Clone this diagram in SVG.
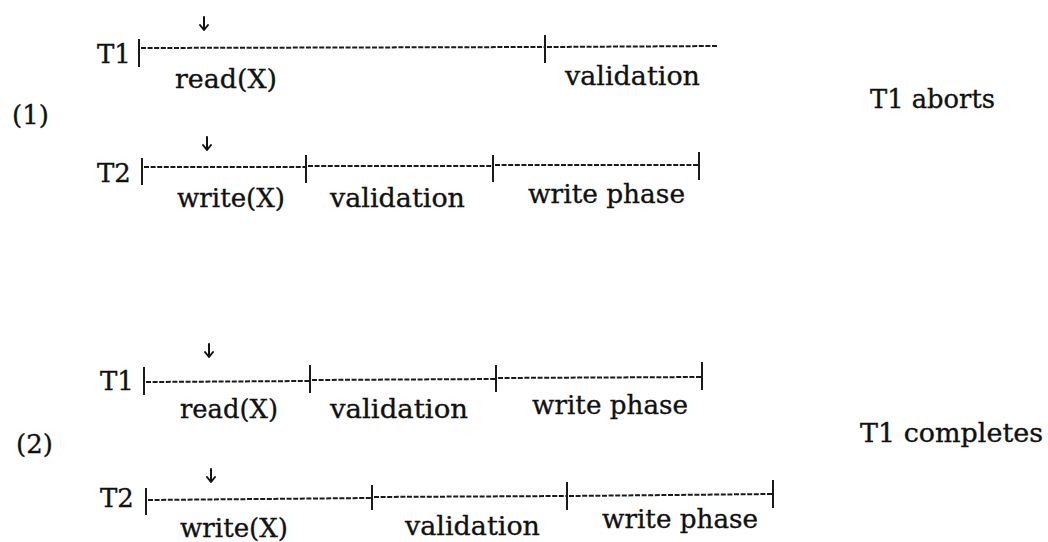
<svg xmlns="http://www.w3.org/2000/svg" width="1048" height="542" viewBox="0 0 1048 542">
<style>
text{font-family:"DejaVu Serif","Liberation Serif",serif;font-size:26px;fill:#111;stroke:#111;stroke-width:0.35}
.d{stroke:#1a1a1a;stroke-width:2;stroke-dasharray:5 1.6;fill:none}
.t{stroke:#1a1a1a;stroke-width:2;fill:none}
.a{stroke:#111;stroke-width:2;fill:none;stroke-linecap:round;stroke-linejoin:round}
</style>
<rect width="1048" height="542" fill="#fff"/>

<g id="case1-label"><text x="12" y="124">(1)</text></g>
<g id="case1-result"><text x="870" y="108" textLength="125" lengthAdjust="spacingAndGlyphs">T1 aborts</text></g>

<g id="case1-T1">
<text x="97" y="63">T1</text>
<text x="175" y="88" textLength="102" lengthAdjust="spacingAndGlyphs">read(X)</text>
<text x="565" y="85" textLength="135" lengthAdjust="spacingAndGlyphs">validation</text>
</g>
<g id="case1-T2">
<text x="97" y="182">T2</text>
<text x="177" y="207" textLength="108" lengthAdjust="spacingAndGlyphs">write(X)</text>
<text x="330" y="207" textLength="135" lengthAdjust="spacingAndGlyphs">validation</text>
<text x="528" y="203" textLength="157" lengthAdjust="spacingAndGlyphs">write phase</text>
</g>

<g id="case2-label"><text x="16" y="453">(2)</text></g>
<g id="case2-result"><text x="860" y="442" textLength="183" lengthAdjust="spacingAndGlyphs">T1 completes</text></g>

<g id="case2-T1">
<text x="100" y="390">T1</text>
<text x="180" y="418" textLength="98" lengthAdjust="spacingAndGlyphs">read(X)</text>
<text x="330" y="418" textLength="138" lengthAdjust="spacingAndGlyphs">validation</text>
<text x="532" y="414" textLength="156" lengthAdjust="spacingAndGlyphs">write phase</text>
</g>
<g id="case2-T2">
<text x="100" y="507">T2</text>
<text x="180" y="537" textLength="108" lengthAdjust="spacingAndGlyphs">write(X)</text>
<text x="405" y="535" textLength="135" lengthAdjust="spacingAndGlyphs">validation</text>
<text x="602" y="528" textLength="156" lengthAdjust="spacingAndGlyphs">write phase</text>
</g>

<g id="connectors">
<!-- case 1 T1 -->
<line class="t" x1="139" y1="39" x2="139" y2="67"/>
<line class="d" x1="141" y1="48" x2="544" y2="47"/>
<line class="t" x1="545" y1="35" x2="545" y2="63"/>
<line class="d" x1="547" y1="47" x2="717" y2="46"/>
<path class="a" d="M204,17 V30 M200,25 L204,30 L208,25"/>
<!-- case 1 T2 -->
<line class="t" x1="142" y1="158" x2="142" y2="185"/>
<line class="d" x1="144" y1="167" x2="305" y2="167"/>
<line class="t" x1="306" y1="155" x2="306" y2="183"/>
<line class="d" x1="308" y1="166" x2="492" y2="166"/>
<line class="t" x1="493" y1="155" x2="493" y2="182"/>
<line class="d" x1="495" y1="165" x2="698" y2="165"/>
<line class="t" x1="699" y1="152" x2="699" y2="180"/>
<path class="a" d="M207,137 V150 M203,145 L207,150 L211,145"/>
<!-- case 2 T1 -->
<line class="t" x1="144" y1="367" x2="144" y2="395"/>
<line class="d" x1="146" y1="382" x2="309" y2="381"/>
<line class="t" x1="310" y1="365" x2="310" y2="393"/>
<line class="d" x1="312" y1="380" x2="495" y2="379"/>
<line class="t" x1="496" y1="365" x2="496" y2="392"/>
<line class="d" x1="498" y1="378" x2="701" y2="377"/>
<line class="t" x1="702" y1="362" x2="702" y2="390"/>
<path class="a" d="M209,344 V357 M205,352 L209,357 L213,352"/>
<!-- case 2 T2 -->
<line class="t" x1="146" y1="488" x2="146" y2="515"/>
<line class="d" x1="148" y1="500" x2="371" y2="498"/>
<line class="t" x1="372" y1="485" x2="372" y2="510"/>
<line class="d" x1="374" y1="497" x2="566" y2="496"/>
<line class="t" x1="567" y1="482" x2="567" y2="510"/>
<line class="d" x1="569" y1="496" x2="772" y2="494"/>
<line class="t" x1="773" y1="480" x2="773" y2="508"/>
<path class="a" d="M211,469 V482 M207,477 L211,482 L215,477"/>
</g>
</svg>
